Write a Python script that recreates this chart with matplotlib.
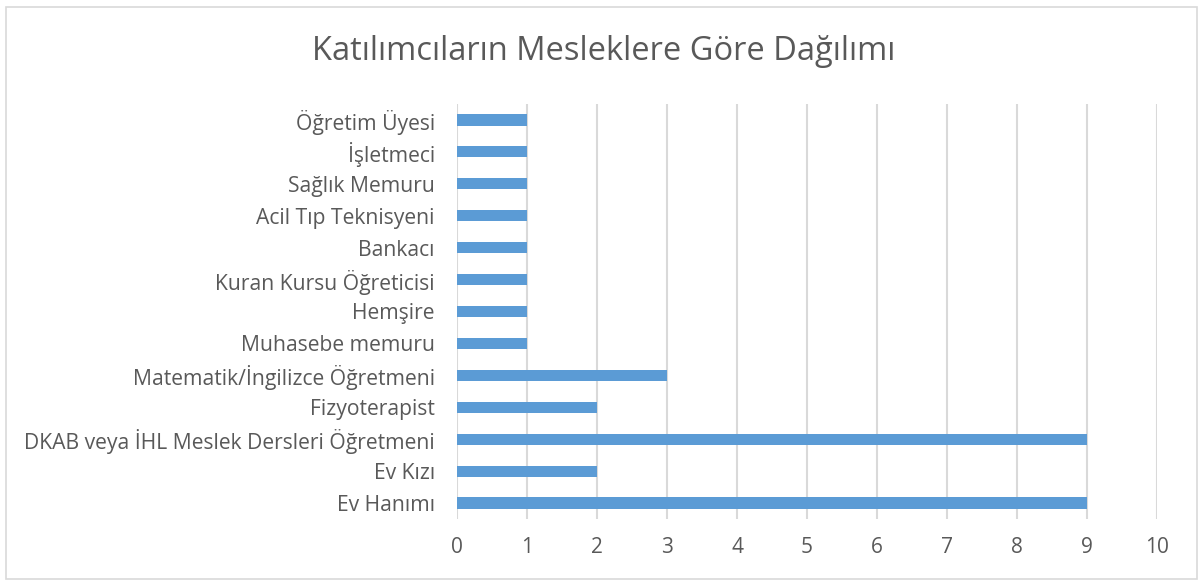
import matplotlib
matplotlib.use("Agg")
import matplotlib.pyplot as plt
from matplotlib.patches import Rectangle

categories = ["Ev Hanımı", "Ev Kızı", "DKAB veya İHL Meslek Dersleri Öğretmeni",
              "Fizyoterapist", "Matematik/İngilizce Öğretmeni", "Muhasebe memuru",
              "Hemşire", "Kuran Kursu Öğreticisi", "Bankacı", "Acil Tıp Teknisyeni",
              "Sağlık Memuru", "İşletmeci", "Öğretim Üyesi"]
values = [9, 2, 9, 2, 3, 1, 1, 1, 1, 1, 1, 1, 1]
xticks = [0, 1, 2, 3, 4, 5, 6, 7, 8, 9, 10]
title = "Katılımcıların Mesleklere Göre Dağılımı"

plt.rcParams['font.family'] = ['Open Sans', 'DejaVu Sans']
txt = '#595959'

fig = plt.figure(figsize=(12.02, 5.81), dpi=100)
ax = fig.add_axes([457/1202, 1-519/581, 700/1202, 415/581])
ypos = list(range(len(categories)))
ax.barh(ypos, values, height=0.35, color='#5B9BD5', zorder=3)
ax.set_xlim(0, 10)
ax.set_ylim(-0.5, len(categories)-0.5)
ax.set_xticks(xticks)
ax.set_xticklabels([str(t) for t in xticks], fontsize=15, color=txt)
ax.set_yticks(ypos)
ax.set_yticklabels(categories, fontsize=15.2, color=txt)
ax.tick_params(axis='both', length=0)
ax.tick_params(axis='x', pad=13)
ax.tick_params(axis='y', pad=16)
ax.grid(axis='x', color='#D9D9D9', linewidth=1.5, zorder=0)
for s in ax.spines.values():
    s.set_visible(False)

fig.text(0.502, 1-52/581, title, ha='center', va='center', fontsize=23.5, color=txt)
fig.patches.append(Rectangle((6/1202, 2/581), 1191/1202, 572/581, transform=fig.transFigure,
                             fill=False, edgecolor='#D9D9D9', linewidth=1.2))
fig.savefig("out.png", dpi=100)
